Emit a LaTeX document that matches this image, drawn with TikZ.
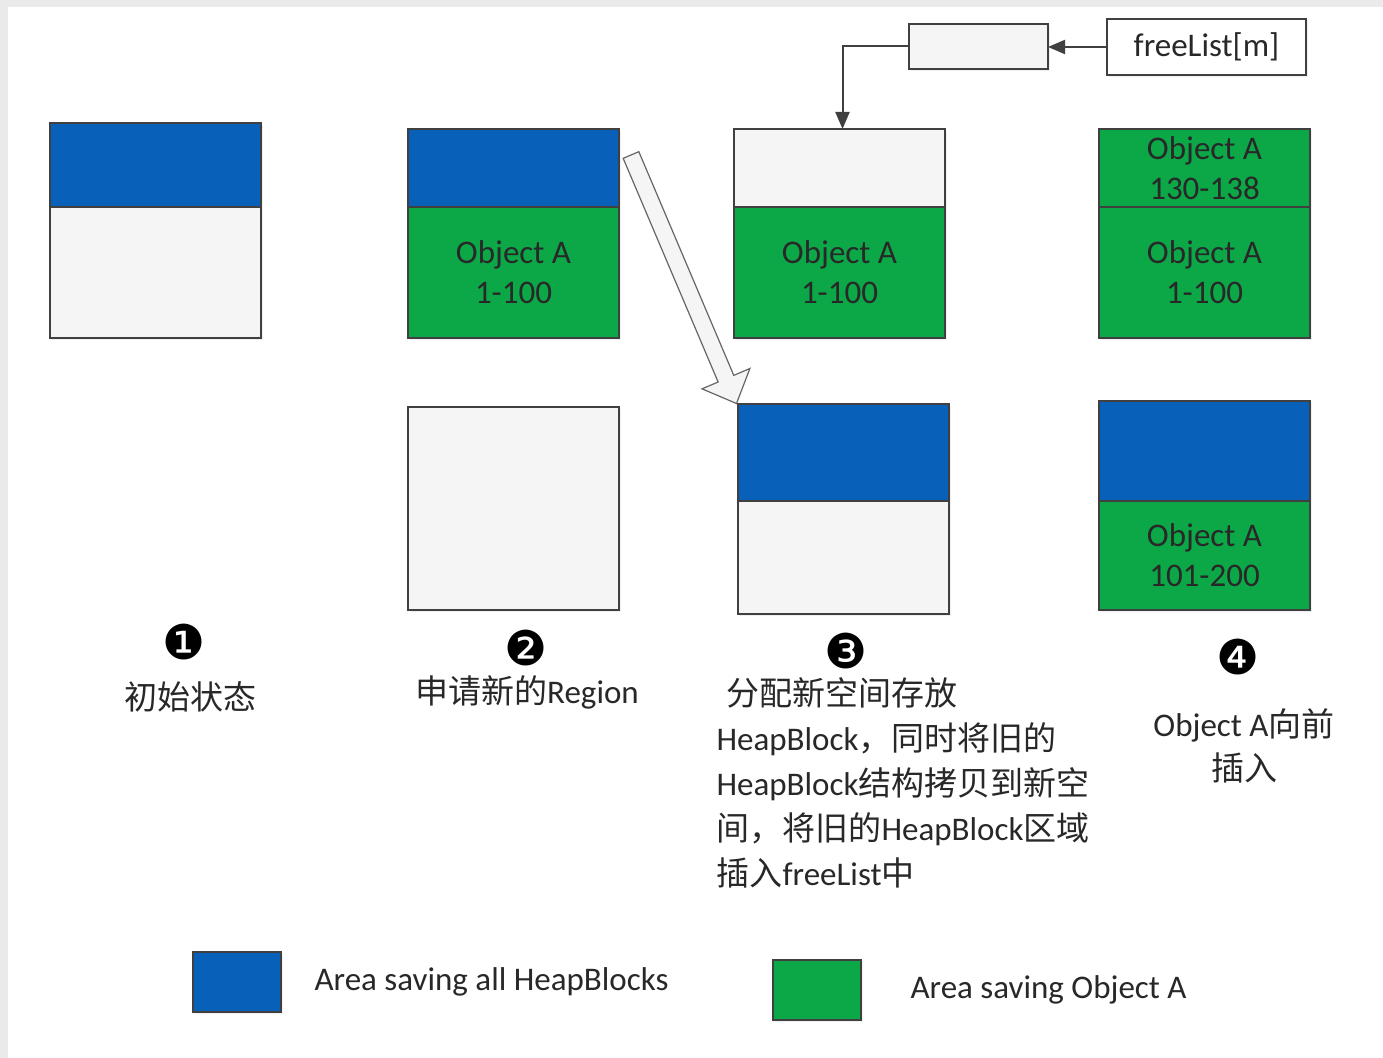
\documentclass[tikz,border=0pt]{standalone}
\usepackage{fontspec}
\setmainfont{Carlito}
\newfontfamily\cjk{Noto Sans CJK SC}
\newfontfamily\dingfont{DejaVu Sans}
\usetikzlibrary{positioning,arrows.meta,shadows}

\definecolor{heapblue}{RGB}{8,96,184}
\definecolor{objgreen}{RGB}{12,168,72}
\definecolor{linegray}{RGB}{64,64,64}
\definecolor{emptyfill}{RGB}{245,245,245}
\definecolor{txtgray}{RGB}{40,40,40}
\definecolor{framegray}{RGB}{234,234,234}

\newcommand{\zh}[1]{{\cjk #1}}

\begin{document}
\begin{tikzpicture}[x=0.5pt,y=-0.5pt, node distance=0pt, semithick,
  part/.style={draw=linegray, line width=0.8pt, outer sep=0pt, inner sep=0pt,
    minimum width=105.5pt, align=center, text=txtgray,
    font=\fontsize{16.5}{20}\selectfont,
    drop shadow={shadow xshift=1.2pt, shadow yshift=-1.2pt, opacity=0.12}},
  heap/.style={part, fill=heapblue},
  obj/.style={part, fill=objgreen},
  empty/.style={part, fill=emptyfill},
  listbox/.style={draw=linegray, line width=0.8pt, outer sep=0pt, inner sep=0pt,
    fill=white, font=\fontsize{16.5}{20}\selectfont, text=txtgray,
    drop shadow={shadow xshift=1pt, shadow yshift=-1pt, opacity=0.12}},
  arr/.style={draw=linegray, line width=1pt, -{Triangle[length=8.5pt, width=7pt]}},
  stepnum/.style={inner sep=0pt, font=\dingfont\fontsize{24}{24}\selectfont, text=black},
  caption/.style={inner sep=0pt, text=txtgray, font=\fontsize{16.5}{22.5}\selectfont},
  keytext/.style={inner sep=0pt, text=txtgray, font=\fontsize{16.5}{20}\selectfont}]

  % page and frame
  \fill[framegray] (0,0) rectangle (1383,1058);
  \fill[white] (8,7) rectangle (1383,1058);

  % 1: initial state
  \node[heap, minimum height=42pt, anchor=north west] (heapA) at (50,123) {};
  \node[empty, minimum height=65.5pt, below=of heapA] (emptyA) {};

  % 2: new region
  \node[heap, minimum height=39pt, anchor=north west] (heapB) at (408,129) {};
  \node[obj, minimum height=65.5pt, below=of heapB] (objB) {Object A\\1-100};
  \node[empty, minimum height=101.5pt, anchor=north west] (regionB) at (408,407) {};

  % 3: heap blocks moved
  \node[empty, minimum height=39pt, anchor=north west] (freedC) at (734,129) {};
  \node[obj, minimum height=65.5pt, below=of freedC] (objC) {Object A\\1-100};
  \node[heap, minimum height=48.5pt, anchor=north west] (heapC) at (738,404) {};
  \node[empty, minimum height=56.5pt, below=of heapC] (emptyC) {};

  % 4: objects inserted
  \node[obj, minimum height=39pt, anchor=north west] (objD1) at (1099,129) {Object A\\130-138};
  \node[obj, minimum height=65.5pt, below=of objD1] (objD2) {Object A\\1-100};
  \node[heap, minimum height=50pt, anchor=north west] (heapD) at (1099,401) {};
  \node[obj, minimum height=54.5pt, below=of heapD] (objD3) {Object A\\101-200};

  % free list
  \node[listbox, minimum width=99.5pt, minimum height=28pt, anchor=north west] (freelist) at (1107,19) {freeList[m]};
  \node[listbox, fill=emptyfill, minimum width=69.5pt, minimum height=22.5pt, anchor=north west] (slot) at (909,24) {};
  \draw[arr] (freelist.west) -- (freelist.west -| slot.east);
  \draw[arr] (slot.west) -| ([xshift=1.5pt]freedC.north);

  % copy arrow
  \begin{scope}[shift={(631,155)}, rotate=-67]
    \draw[draw=gray!80!black, line width=0.6pt, fill=white!96!black]
      (0,-8.5) -- (243,-8.5) -- (243,-26) -- (270,0) -- (243,26) -- (243,8.5) -- (0,8.5) -- cycle;
  \end{scope}

  % step labels
  \node[stepnum] (numA) at (184,642) {❶};
  \node[caption] (capA) at (190,697) {\zh{初始状态}};
  \node[stepnum] (numB) at (526,648) {❷};
  \node[caption] (capB) at (527,692) {\zh{申请新的}Region};
  \node[stepnum] (numC) at (846,651) {❸};
  \node[caption, anchor=west, align=left] (capC) at (716,783) {%
    \hspace*{5pt}\zh{分配新空间存放}\\
    HeapBlock\zh{，同时将旧的}\\
    HeapBlock\zh{结构拷贝到新空}\\
    \zh{间，将旧的}HeapBlock\zh{区域}\\
    \zh{插入}freeList\zh{中}};
  \node[stepnum] (numD) at (1238,657) {❹};
  \node[caption, align=center, font=\fontsize{16.5}{22}\selectfont] (capD) at (1244,746) {Object A\zh{向前}\\\zh{插入}};

  % legend
  \node[heap, minimum width=44pt, minimum height=30pt, anchor=north west] (keyheap) at (193,952) {};
  \node[keytext, right=16.5pt of keyheap] (keyheaptext) {Area saving all HeapBlocks};
  \node[obj, minimum width=44pt, minimum height=30pt, anchor=north west] (keyobj) at (773,960) {};
  \node[keytext, right=24.5pt of keyobj] (keyobjtext) {Area saving Object A};
\end{tikzpicture}
\end{document}
